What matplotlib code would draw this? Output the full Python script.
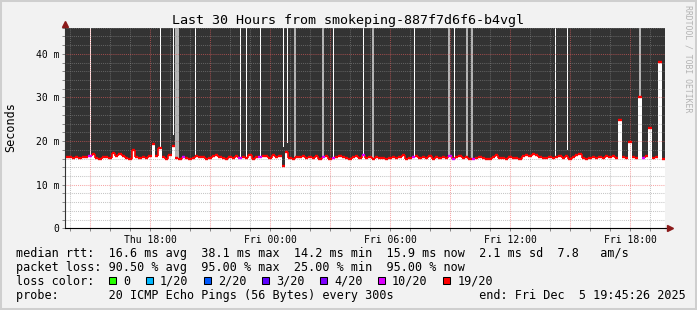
import numpy as np
import matplotlib
matplotlib.use("Agg")
import matplotlib.pyplot as plt
from matplotlib.patches import Rectangle
from matplotlib.ticker import FixedLocator, MultipleLocator, FuncFormatter

plt.rcParams['font.family'] = ['DejaVu Sans Mono']

W, H = 697, 310

#%% data
t_start = 13.75      # Thu 13:45 (hours since Thu 00:00)
step_h = 1 / 6       # 10 min samples

median_ms = [
    16.4, 16.3, 16.2, 16.3, 16.2, 16.4, 16.3, 16.6, 17.1, 16.2, 16.0, 16.4,
    16.3, 16.1, 17.3, 16.5, 17.0, 16.6, 16.2, 15.9, 17.9, 16.4, 16.2, 16.3,
    16.2, 16.6, 19.3, 16.5, 18.4, 16.3, 16.0, 16.9, 18.9, 16.2, 16.0, 16.4,
    16.2, 16.0, 16.1, 16.5, 16.3, 16.4, 15.9, 16.2, 16.6, 16.8, 16.3, 16.1,
    16.0, 16.4, 16.2, 16.5, 16.1, 16.3, 16.2, 16.7, 16.0, 16.4, 16.3, 16.6,
    16.5, 16.2, 16.8, 16.4, 16.6, 14.2, 17.5, 16.2, 16.0, 16.4, 16.3, 16.5,
    16.1, 16.4, 16.2, 16.6, 16.0, 16.3, 16.5, 15.9, 16.2, 16.4, 16.6, 16.3,
    16.2, 16.0, 16.3, 16.5, 16.1, 16.8, 16.2, 16.4, 16.0, 16.3, 16.1, 16.2,
    16.0, 16.2, 16.4, 16.1, 16.3, 16.9, 16.0, 16.2, 16.3, 16.6, 16.1, 16.4,
    16.2, 16.5, 16.0, 16.3, 16.1, 16.4, 16.2, 16.6, 16.0, 16.3, 16.5, 16.2,
    16.3, 16.0, 15.8, 16.1, 16.4, 16.2, 16.0, 15.9, 16.3, 16.7, 16.1, 16.2,
    16.0, 16.3, 16.1, 16.2, 16.0, 16.5, 16.8, 16.6, 17.0, 16.9, 16.3, 16.1,
    16.2, 16.4, 16.1, 16.3, 16.6, 16.2, 16.5, 16.0, 16.3, 16.9, 17.0, 16.1,
    16.0, 16.2, 16.3, 16.1, 16.4, 16.2, 16.5, 16.3, 16.6, 16.2, 24.8, 16.4,
    16.2, 19.8, 16.3, 16.1, 30.0, 16.2, 16.5, 23.0, 16.1, 16.4, 38.1, 16.0,
]
# samples with 10/20 loss (rest 19/20)
loss10_idx = [7, 35, 52, 58, 77, 80, 89, 104, 115, 116, 122, 173]

# gaps in the smoke (hours)
white_full_t = [15.0, 18.5, 20.25, 22.5, 22.8, 23.5, 27.15, 28.65, 31.2, 33.2, 38.25]
white_part_t = [19.15, 24.7, 24.85, 38.85]
white_part_bottom = [21.4, 18.6, 19.5, 17.9]
grey_t = [19.3, 19.4, 25.25, 26.65, 29.15, 32.95, 33.85, 34.1, 42.5]

tick_hours = [18, 24, 30, 36, 42]
tick_labels = ["Thu 18:00", "Fri 00:00", "Fri 06:00", "Fri 12:00", "Fri 18:00"]
ytick_ms = [0, 10, 20, 30, 40]
ytick_labels = ["0", "10 m", "20 m", "30 m", "40 m"]

title = "Last 30 Hours from smokeping-887f7d6f6-b4vgl"
legend_lines = [
    "median rtt:  16.6 ms avg  38.1 ms max  14.2 ms min  15.9 ms now  2.1 ms sd  7.8   am/s",
    "packet loss: 90.50 % avg  95.00 % max  25.00 % min  95.00 % now",
    "loss color:",
    "probe:       20 ICMP Echo Pings (56 Bytes) every 300s            end: Fri Dec  5 19:45:26 2025",
]
loss_names = ["0", "1/20", "2/20", "3/20", "4/20", "10/20", "19/20"]
loss_colors = ["#26ff00", "#00b8ff", "#0059ff", "#5e00ff", "#7e00ff", "#dd00ff", "#ff0000"]

#%% plot
fig = plt.figure(figsize=(W / 100, H / 100), dpi=100, facecolor='#f2f2f2')
ax = fig.add_axes([65 / W, 1 - 228.3 / H, 600 / W, 200.6 / H])
ax.set_facecolor('white')

ymax = 46
med = np.array(median_ms)
t = t_start + np.arange(len(med)) * step_h
t_e = np.append(t, t[-1] + step_h)
med_e = np.append(med, med[-1])

def med_at(tt):
    i = np.clip(((np.array(tt) - t_start) / step_h).astype(int), 0, len(med) - 1)
    return med[i]

# smoke
ax.fill_between(t_e, med_e, ymax, step='post', color='#333333', lw=0, zorder=1)
b = med_at(white_full_t)
ax.bar(white_full_t, ymax - b, bottom=b, width=0.05, color='white', lw=0, zorder=1.1)
b = np.array(white_part_bottom)
ax.bar(white_part_t, ymax - b, bottom=b, width=0.05, color='white', lw=0, zorder=1.1)
b = med_at(grey_t)
ax.bar(grey_t, ymax - b, bottom=b, width=0.1, color='#b4b4b4', lw=0, zorder=1.1)

# median: flat pieces, joined only where the step is small
seg_col = np.array(['#ff0000'] * len(med), dtype=object)
seg_col[loss10_idx] = '#dd00ff'
ax.hlines(med, t, t + step_h, colors=list(seg_col), lw=1.7, zorder=2)
d = np.diff(med)
small = np.abs(d) < 2
ax.vlines(t[1:][small], med[:-1][small], med[1:][small], color='#ff0000', lw=1.2, zorder=1.9)

ax.set_xlim(t_start, t_start + len(med) * step_h)
ax.set_ylim(0, ymax)

# grid / ticks
ax.xaxis.set_major_locator(FixedLocator(np.arange(15, 43, 3)))
ax.xaxis.set_minor_locator(MultipleLocator(1))
ax.yaxis.set_major_locator(FixedLocator(ytick_ms))
ax.yaxis.set_minor_locator(MultipleLocator(2))
xlab = dict(zip(tick_hours, tick_labels))
ylab = dict(zip(ytick_ms, ytick_labels))
ax.xaxis.set_major_formatter(FuncFormatter(lambda v, p: xlab.get(int(round(v)), "")))
ax.yaxis.set_major_formatter(FuncFormatter(lambda v, p: ylab.get(int(round(v)), "")))
ax.grid(which='minor', color='#8f8f8f', alpha=0.5, lw=0.75, linestyle=(0, (1, 1)))
ax.grid(which='major', color='#f06060', alpha=0.55, lw=0.75, linestyle=(0, (1, 1)))
ax.tick_params(which='both', direction='out', length=2, width=0.6, color='#777777')
ax.tick_params(axis='x', which='major', labelsize=7, pad=2.5)
ax.tick_params(axis='y', which='major', labelsize=7, pad=2.2)

for s in ['top', 'right']:
    ax.spines[s].set_visible(False)
ax.spines['bottom'].set_color('black')
ax.spines['left'].set_color('#333333')
ax.spines['bottom'].set_linewidth(0.8)
ax.spines['left'].set_linewidth(0.8)
# axis arrows
ax.plot([1, 1.009], [0, 0], transform=ax.transAxes, clip_on=False, color='black', lw=0.8)
ax.plot([0, 0], [1, 1.02], transform=ax.transAxes, clip_on=False, color='#333333', lw=0.8)
ax.plot(1.009, 0, marker='>', ms=4, color='#8b1a1a', transform=ax.transAxes, clip_on=False)
ax.plot(0, 1.02, marker='^', ms=4, color='#8b1a1a', transform=ax.transAxes, clip_on=False)

#%% texts
fig.text(347.8 / W, 1 - 24.3 / H, title, ha='center', va='baseline', fontsize=9.6)
fig.text(11 / W, 1 - 127.5 / H, 'Seconds', rotation=90, ha='center', va='center', fontsize=8.45)
fig.text(688 / W, 1 - 5 / H, 'RRDTOOL / TOBI OETIKER', rotation=270, ha='center', va='top',
         fontsize=5.9, color='#b3b3b3')

cw = 7.077
for k, line in enumerate(legend_lines):
    fig.text(16 / W, 1 - (256.8 + 14 * k) / H, line, ha='left', va='baseline', fontsize=8.45)

bx = 16 + 13 * cw + 1.3
for name, col in zip(loss_names, loss_colors):
    fig.patches.append(Rectangle((bx / W, 1 - 284 / H), 7 / W, 7 / H, transform=fig.transFigure,
                                 facecolor=col, edgecolor='black', lw=0.75))
    tx = bx + 14
    fig.text(tx / W, 1 - 284.8 / H, name, ha='left', va='baseline', fontsize=8.45)
    bx = tx + len(name) * cw + 15.7

fig.patches.append(Rectangle((0, 0), 1, 1, transform=fig.transFigure, fill=False,
                             edgecolor='#cfcfcf', lw=2.9))

fig.savefig('out.png', dpi=100, facecolor=fig.get_facecolor())
